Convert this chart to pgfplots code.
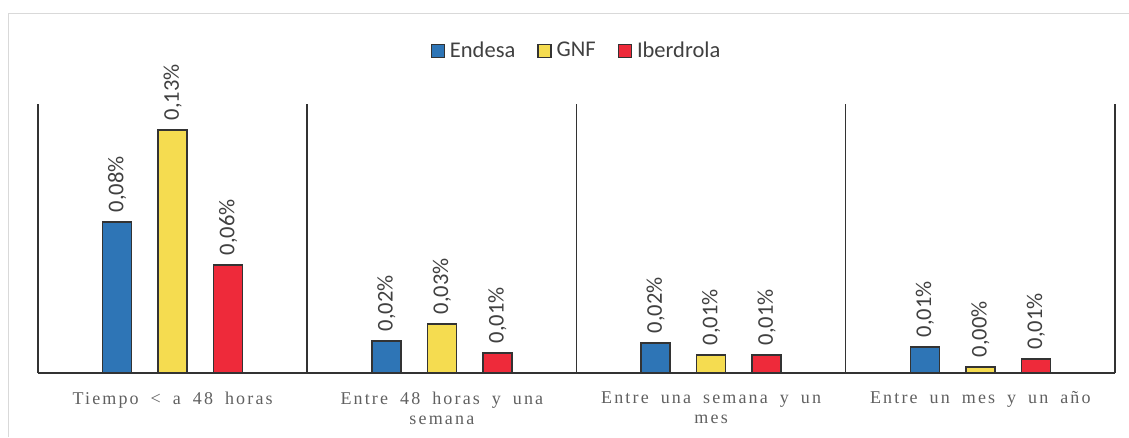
\documentclass[border=0pt]{standalone}
\usepackage{pgfplots}
\pgfplotsset{compat=1.18}
\usepackage{fontspec}
\setmainfont{Carlito}
\newfontfamily\catfont[LetterSpace=12]{Liberation Serif}
\newcommand\catlabel{\catfont\fontsize{18}{20.5}\selectfont\spaceskip=12pt plus 3pt minus 2pt\relax}
\definecolor{cEnd}{HTML}{2E75B6}
\definecolor{cGNF}{HTML}{F5DC50}
\definecolor{cIbe}{HTML}{EE2A3A}
\definecolor{edge}{HTML}{333333}
\definecolor{txt}{HTML}{404040}
\definecolor{cat}{HTML}{606060}
\begin{document}
\begin{tikzpicture}
\useasboundingbox (-38pt,-64pt) rectangle (1091pt,373pt);
\draw[black!15, line width=1.5pt] (-29.5pt,-64pt) -- (-29.5pt,359.5pt) -- (1091pt,359.5pt);
\begin{axis}[
  at={(0pt,0pt)}, anchor=south west,
  scale only axis, width=1077pt, height=269pt,
  ybar=26.5pt, bar width=29pt,
  xmin=-0.5, xmax=3.5, ymin=0, ymax=0.1439,
  axis x line=bottom, axis y line=none,
  axis line style={-, edge, line width=1.5pt},
  xtick={0,1,2,3},
  xticklabels={{Tiempo < a 48 horas}, {Entre 48 horas y una\\semana}, {Entre una semana y un\\mes}, {Entre un mes y un año}},
  major tick length=0pt,
  xticklabel style={font=\catlabel, text=cat, align=center, anchor=north, yshift=-15pt},
  extra x ticks={-0.5,0.5,1.5,2.5,3.5},
  extra x tick labels={},
  extra x tick style={grid=major, major grid style={edge, line width=1.5pt}},
  /pgf/number format/assume math mode=true,
  nodes near coords={\pgfmathprintnumber[fixed, precision=2, zerofill, use comma]{\pgfplotspointmeta}\%},
  every node near coord/.append style={rotate=90, anchor=west, font=\fontsize{22.5}{26}\selectfont, text=txt, inner xsep=9pt},
  every axis plot/.append style={draw=edge, line width=1.5pt},
  legend columns=3,
  legend style={at={(0.5,1.2)}, anchor=center, draw=none, fill=none, font=\fontsize{22.5}{26}\selectfont, text=txt,
    /tikz/every odd column/.append style={column sep=3pt},
    /tikz/every even column/.append style={column sep=20pt}},
  legend image code/.code={\draw[#1, line width=1.3pt] (0pt,-7pt) rectangle (13pt,6pt);},
]
\addplot[fill=cEnd] coordinates {(0,0.0808) (1,0.0171) (2,0.0160) (3,0.0139)};
\addplot[fill=cGNF] coordinates {(0,0.130) (1,0.0262) (2,0.0096) (3,0.0032)};
\addplot[fill=cIbe] coordinates {(0,0.0578) (1,0.0107) (2,0.0096) (3,0.0075)};
\legend{Endesa, GNF, Iberdrola}
\end{axis}
\end{tikzpicture}
\end{document}
